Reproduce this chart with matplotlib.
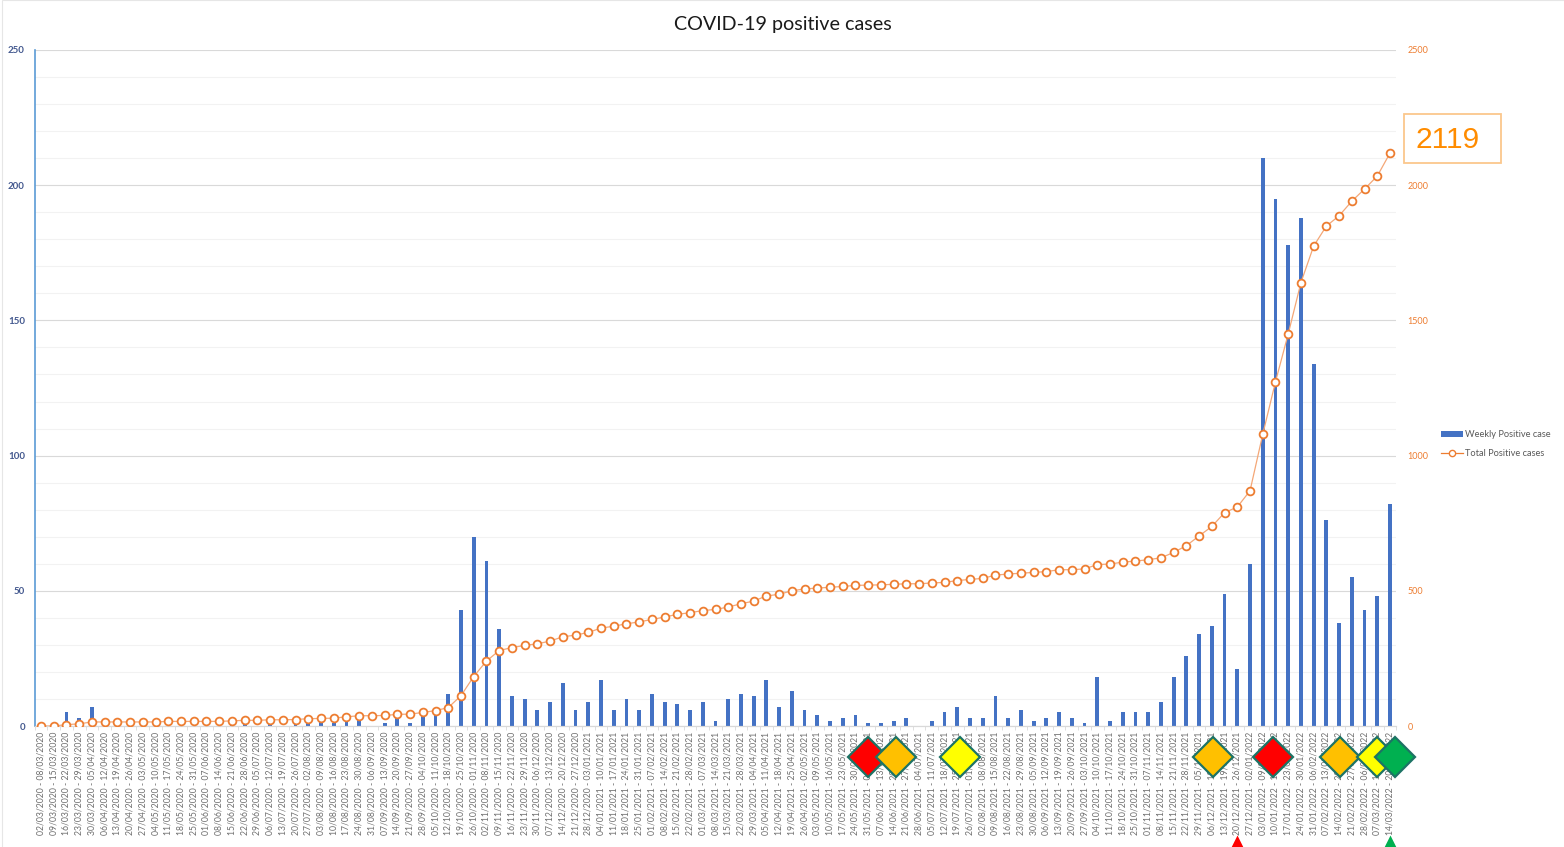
import pandas as pd
import matplotlib
matplotlib.use('Agg')
import matplotlib.pyplot as plt
from matplotlib.lines import Line2D
from matplotlib.patches import Patch, Rectangle

week_starts = pd.date_range('2020-03-02', '2022-03-14', freq='7D')
week_labels = [d.strftime('%d/%m/%Y') + ' - ' + (d + pd.Timedelta(days=6)).strftime('%d/%m/%Y')
               for d in week_starts]

weekly_cases = [0, 0, 5, 3, 7, 0, 0, 0, 0, 0, 0, 0, 0, 0, 0, 1, 2, 0, 2, 0,
                1, 3, 3, 1, 3, 4, 0, 1, 4, 1, 5, 6, 12, 43, 70, 61, 36,
                11, 10, 6, 9, 16, 6, 9, 17, 6, 10, 6, 12, 9, 8, 6, 9, 2, 10, 12, 11, 17, 7, 13,
                6, 4, 2, 3, 4, 1, 1, 2, 3, 0, 2, 5,
                7, 3, 3, 11, 3, 6, 2, 3, 5, 3, 1, 18, 2, 5, 5, 5, 9, 18, 26, 34, 37, 49, 21, 60,
                210, 195, 178, 188, 134, 76, 38, 55, 43, 48, 82]
total_cases = [0, 0, 5, 8, 15, 15, 15, 15, 15, 15, 17, 17, 17, 17, 17, 19, 21, 21, 23, 23,
               24, 27, 28, 29, 34, 38, 38, 39, 43, 44, 50, 57, 68, 112, 183, 240, 279,
               290, 298, 304, 314, 330, 336, 346, 362, 369, 378, 385, 394, 403, 413, 419, 427,
               431, 440, 452, 462, 481, 487, 500, 507, 510, 513, 516, 520, 521, 522, 524,
               526, 526, 529, 531, 538, 542, 546, 558, 562, 565, 568, 571, 578, 578, 581,
               597, 599, 606, 610, 615, 622, 642, 667, 703, 738, 789, 810, 870,
               1079, 1273, 1450, 1640, 1775, 1849, 1887, 1941, 1986, 2034, 2119]

left_ticks = [0, 50, 100, 150, 200, 250]
right_ticks = [0, 500, 1000, 1500, 2000, 2500]
grid_minor = [v for v in range(0, 251, 10) if v % 50]

# alert level changes, placed by week position under the axis
diamond_weeks = [65, 67.2, 72.2, 92.1, 96.8, 102.1, 105, 106.4]
diamond_colors = ['#ff0000', '#ffc000', '#ffff00', '#ffc000', '#ff0000', '#ffc000', '#ffff00', '#00b050']
arrow_weeks = [94, 106]
arrow_colors = ['#ff0000', '#00b050']
last_total = '2119'

W, H = 1564, 847
x = list(range(len(week_labels)))

plt.rcParams['font.family'] = ['Lato', 'DejaVu Sans']
fig = plt.figure(figsize=(W / 100, H / 100), dpi=100)
ax = fig.add_axes([34.6 / W, 1 - 726 / H, (1396.4 - 34.6) / W, 676 / H])
ax2 = ax.twinx()

ax.bar(x, weekly_cases, width=0.3, color='#4472c4', label='Weekly Positive case')
ax2.plot(x, total_cases, color='#f4a777', lw=0.9, zorder=2)
ax2.plot(x, total_cases, ls='none', marker='o', ms=5.6, mfc='white', mec='#ed7d31', mew=1.3, zorder=3)

ax.set_xlim(-0.5, len(x) - 0.5)
ax.set_ylim(0, 250)
ax2.set_ylim(0, 2500)

ax.set_axisbelow(True)
ax.set_yticks(left_ticks)
ax.set_yticks(grid_minor, minor=True)
ax.grid(axis='y', which='major', color='#d9d9d9', lw=0.8)
ax.grid(axis='y', which='minor', color='#f2f2f2', lw=0.8)
ax.tick_params(axis='y', which='both', length=0, pad=7, labelsize=7, labelcolor='#44598f')
for lab in ax.get_yticklabels():
    lab.set_fontweight('bold')

ax.set_xticks(x)
ax.set_xticklabels(week_labels, rotation=90, fontsize=6.2, color='#6e6e6e')
ax.set_xticks([i - 0.5 for i in x] + [x[-1] + 0.5], minor=True)
ax.tick_params(axis='x', which='major', length=0, pad=4)
ax.tick_params(axis='x', which='minor', length=3, width=0.6, color='#d9d9d9')

ax2.set_yticks(right_ticks)
ax2.tick_params(axis='y', length=0, pad=8, labelsize=6.5, labelcolor='#ed7d31')

for a in (ax, ax2):
    a.spines['top'].set_visible(False)
    a.spines['right'].set_visible(False)
    a.spines['bottom'].set_color('#d9d9d9')
    a.spines['left'].set_visible(False)
ax.spines['left'].set_visible(True)
ax.spines['left'].set_color('#5b9bd5')
ax.spines['left'].set_linewidth(1.2)

trans = ax2.get_xaxis_transform()
for wk, col in zip(diamond_weeks, diamond_colors):
    ax2.plot([wk], [-31 / 676], marker='D', ms=20.5, mfc=col, mec='#1d7365', mew=1.6,
             transform=trans, clip_on=False, zorder=5)
for wk, col in zip(arrow_weeks, arrow_colors):
    ax2.plot([wk], [-118 / 676], marker='^', ms=13, mfc=col, mec='none',
             transform=trans, clip_on=False, zorder=5)

fig.text(783 / W, 1 - 24.5 / H, 'COVID-19 positive cases', ha='center', va='center',
         fontsize=14.2, color='#1a1a1a')

fig.patches.append(Rectangle((1404 / W, 1 - 163 / H), 97 / W, 49 / H, transform=fig.transFigure,
                             fc='white', ec='#fbc78c', lw=1.3))
fig.text(1448 / W, 1 - 140 / H, last_total, ha='center', va='center', fontsize=21.5,
         color='#ff8c00', family='Liberation Sans')

handles = [Patch(fc='#4472c4', ec='none', label='Weekly Positive case'),
           Line2D([], [], color='#ed7d31', lw=0.9, marker='o', ms=4.5, mfc='white', mec='#ed7d31',
                  mew=1, label='Total Positive cases')]
fig.legend(handles=handles, loc='center left', bbox_to_anchor=(1438 / W, 1 - 444 / H), frameon=False,
           fontsize=6.7, labelcolor='#595959', handlelength=2.35, handletextpad=0.3,
           labelspacing=1.05, handleheight=0.6, borderpad=0.3, borderaxespad=0)

fig.patches.append(Rectangle((2 / W, -0.01), 1.1, 1.01, transform=fig.transFigure,
                             fc='none', ec='#e6e6e6', lw=0.8))

fig.savefig('out.png', dpi=100)
